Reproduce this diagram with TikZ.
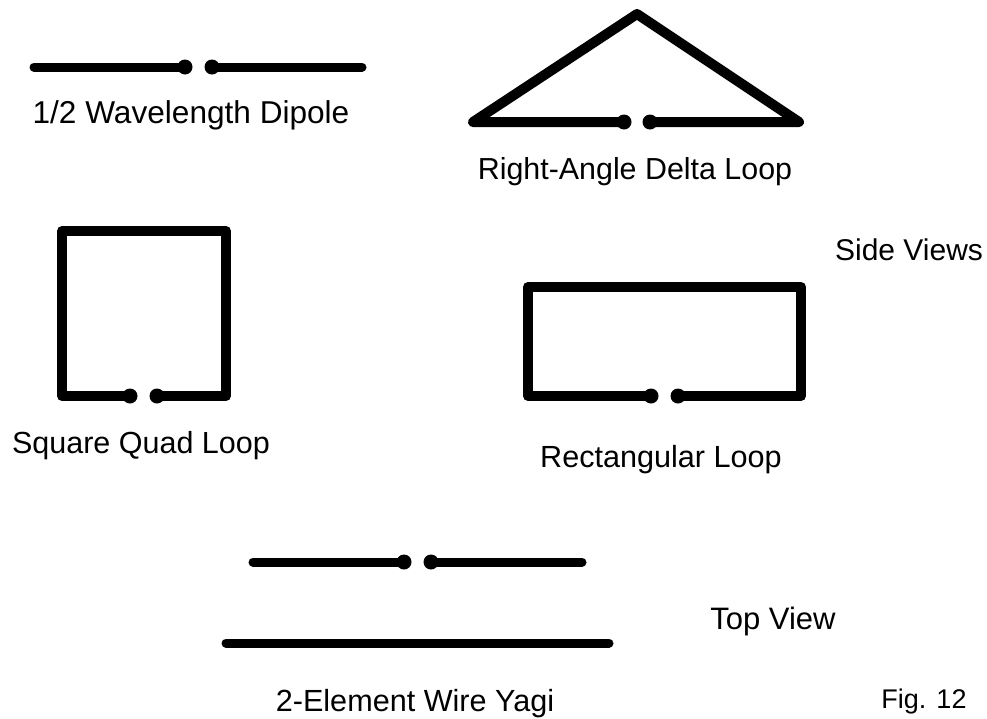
\documentclass[tikz,border=0pt]{standalone}
\usepackage{fontspec}
\setmainfont{Liberation Sans}
\newcommand{\labsize}[1]{\fontsize{#1pt}{36pt}\selectfont}
\begin{document}
\begin{tikzpicture}[x=1pt,y=-1pt,
  wire/.style={line width=9pt,line cap=round,line join=round,black},
  wirem/.style={line width=10pt,line cap=round,line join=round,black},
  dot/.style={circle,fill=black,inner sep=0pt,minimum size=15pt},
  lab/.style={inner sep=0pt,anchor=base}]
\useasboundingbox (0,0) rectangle (987,718);
\fill[white] (0,0) rectangle (987,718);
% dipole
\coordinate (d1) at (34,67); \coordinate (d2) at (185,67);
\coordinate (d3) at (212,67); \coordinate (d4) at (362,67);
\draw[wire] (d1)--(d2); \draw[wire] (d3)--(d4);
\node[dot] at (d2) {}; \node[dot] at (d3) {};
\node[lab,font=\labsize{31.6}] (dl) at (191,123) {1/2 Wavelength Dipole};
% delta
\coordinate (t1) at (624,122); \coordinate (t2) at (473,122); \coordinate (t3) at (637,14);
\coordinate (t4) at (799,122); \coordinate (t5) at (650,122);
\draw[wirem] (t1)--(t2)--(t3)--(t4)--(t5);
\node[dot] at (t1) {}; \node[dot] at (t5) {};
\node[lab,font=\labsize{30.4}] (tl) at (635,179) {Right-Angle Delta Loop};
% square
\coordinate (s1) at (130,396); \coordinate (s2) at (62,396); \coordinate (s3) at (62,231);
\coordinate (s4) at (226,231); \coordinate (s5) at (226,396); \coordinate (s6) at (157,396);
\draw[wirem] (s1)--(s2)--(s3)--(s4)--(s5)--(s6);
\node[dot] at (s1) {}; \node[dot] at (s6) {};
\node[lab,font=\labsize{30.5}] (sl) at (141,453) {Square Quad Loop};
% rect
\coordinate (r1) at (651,396); \coordinate (r2) at (528,396); \coordinate (r3) at (528,287);
\coordinate (r4) at (801,287); \coordinate (r5) at (801,396); \coordinate (r6) at (678,396);
\draw[wirem] (r1)--(r2)--(r3)--(r4)--(r5)--(r6);
\node[dot] at (r1) {}; \node[dot] at (r6) {};
\node[lab,font=\labsize{30.6}] (rl) at (661,467) {Rectangular Loop};
\node[lab,font=\labsize{30}] (sv) at (909,260) {Side Views};
% yagi
\coordinate (y1) at (253,562); \coordinate (y2) at (404,562);
\coordinate (y3) at (431,562); \coordinate (y4) at (582,562);
\draw[wire] (y1)--(y2); \draw[wire] (y3)--(y4);
\node[dot] at (y2) {}; \node[dot] at (y3) {};
\coordinate (y5) at (226,643); \coordinate (y6) at (609,643);
\draw[wire] (y5)--(y6);
\node[lab,font=\labsize{30.6}] (yl) at (415,711) {2-Element Wire Yagi};
\node[lab,font=\labsize{31}] (tv) at (773,629) {Top View};
\node[lab,font=\labsize{27}] (fg) at (924,708) {Fig. 12};
\end{tikzpicture}
\end{document}
